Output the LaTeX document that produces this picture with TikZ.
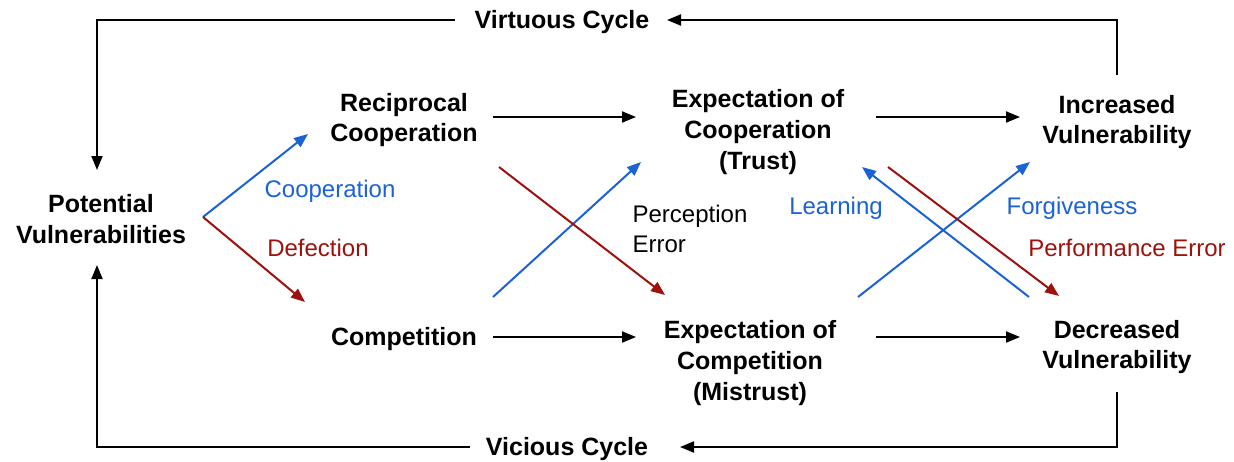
\documentclass[tikz,border=0pt]{standalone}
\usepackage{fontspec}
\setmainfont{Liberation Sans}
\usepackage{tikz}
\usetikzlibrary{arrows.meta,calc}
\definecolor{coopblue}{RGB}{26,98,214}
\definecolor{defred}{RGB}{158,18,14}

\begin{document}
\begin{tikzpicture}[x=0.5pt,y=-0.5pt,
    state/.style={align=center,inner sep=0pt,font=\fontsize{12.5}{15.3}\selectfont\bfseries},
    tag/.style={align=center,inner sep=0pt,font=\fontsize{12}{15}\selectfont},
    arr/.style={line width=1pt,-{Triangle[length=7pt,width=5.5pt]}}]
            \useasboundingbox (0,0) rectangle (1234,461);
            \node[state] (PV) at (101,219) {Potential\\Vulnerabilities};
            \node[state] (RC) at (404,120) {Reciprocal\\Cooperation};
            \node[state] (CP) at (404,339) {Competition};
            \node[state] (EC) at (758,132) {Expectation of\\Cooperation\\(Trust)};
            \node[state] (EM) at (750,363) {Expectation of\\Competition\\(Mistrust)};
            \node[state] (IV) at (1117,122) {Increased\\Vulnerability};
            \node[state] (DV) at (1117,347) {Decreased\\Vulnerability};
            \node[state] (VT) at (562,22) {Virtuous Cycle};
            \node[state] (VC) at (567,449) {Vicious Cycle};
            % labels
            \node[tag,text=coopblue] (Lcoop) at (330,191) {Cooperation};
            \node[tag,text=defred] (Ldef) at (318,248) {Defection};
            \node[tag,align=left] (Lperc) at (690,229) {Perception\\Error};
            \node[tag,text=coopblue] (Llearn) at (836,208) {Learning};
            \node[tag,text=coopblue] (Lforg) at (1072,208) {Forgiveness};
            \node[tag,text=defred] (Lperf) at (1127,248) {Performance Error};
            % cycles
            \draw[arr] ($(IV)+(0,-47)$) |- ($(VT)+(105,-2)$);
            \draw[arr] ($(VT)+(-107,-2)$) -| ($(PV)+(-4,-49)$);
            \draw[arr] ($(DV)+(0,45)$) |- ($(VC)+(113,-2)$);
            \draw[arr] ($(VC)+(-97,-2)$) -| ($(PV)+(-4,46)$);
            % straight flow
            \draw[arr] ($(RC)+(89,-3)$) -- ($(EC)+(-122,-15)$);
            \draw[arr] ($(EC)+(118,-15)$) -- ($(IV)+(-97,-5)$);
            \draw[arr] ($(CP)+(89,-2)$) -- ($(EM)+(-114,-26)$);
            \draw[arr] ($(EM)+(126,-26)$) -- ($(DV)+(-97,-10)$);
            % choices and errors
            \draw[arr,coopblue] ($(PV)+(102,-2)$) -- ($(RC)+(-96,14)$);
            \draw[arr,defred] ($(PV)+(102,-2)$) -- ($(CP)+(-99,-37)$);
            \draw[arr,coopblue] ($(CP)+(89,-42)$) -- ($(EC)+(-117,30)$);
            \draw[arr,defred] ($(RC)+(95,47)$) -- ($(EM)+(-85,-68)$);
            \draw[arr,coopblue] ($(DV)+(-88,-50)$) -- ($(EC)+(104,35)$);
            \draw[arr,coopblue] ($(EM)+(108,-66)$) -- ($(IV)+(-87,40)$);
            \draw[arr,defred] ($(EC)+(130,35)$) -- ($(DV)+(-58,-51)$);
        \end{tikzpicture}
\end{document}
